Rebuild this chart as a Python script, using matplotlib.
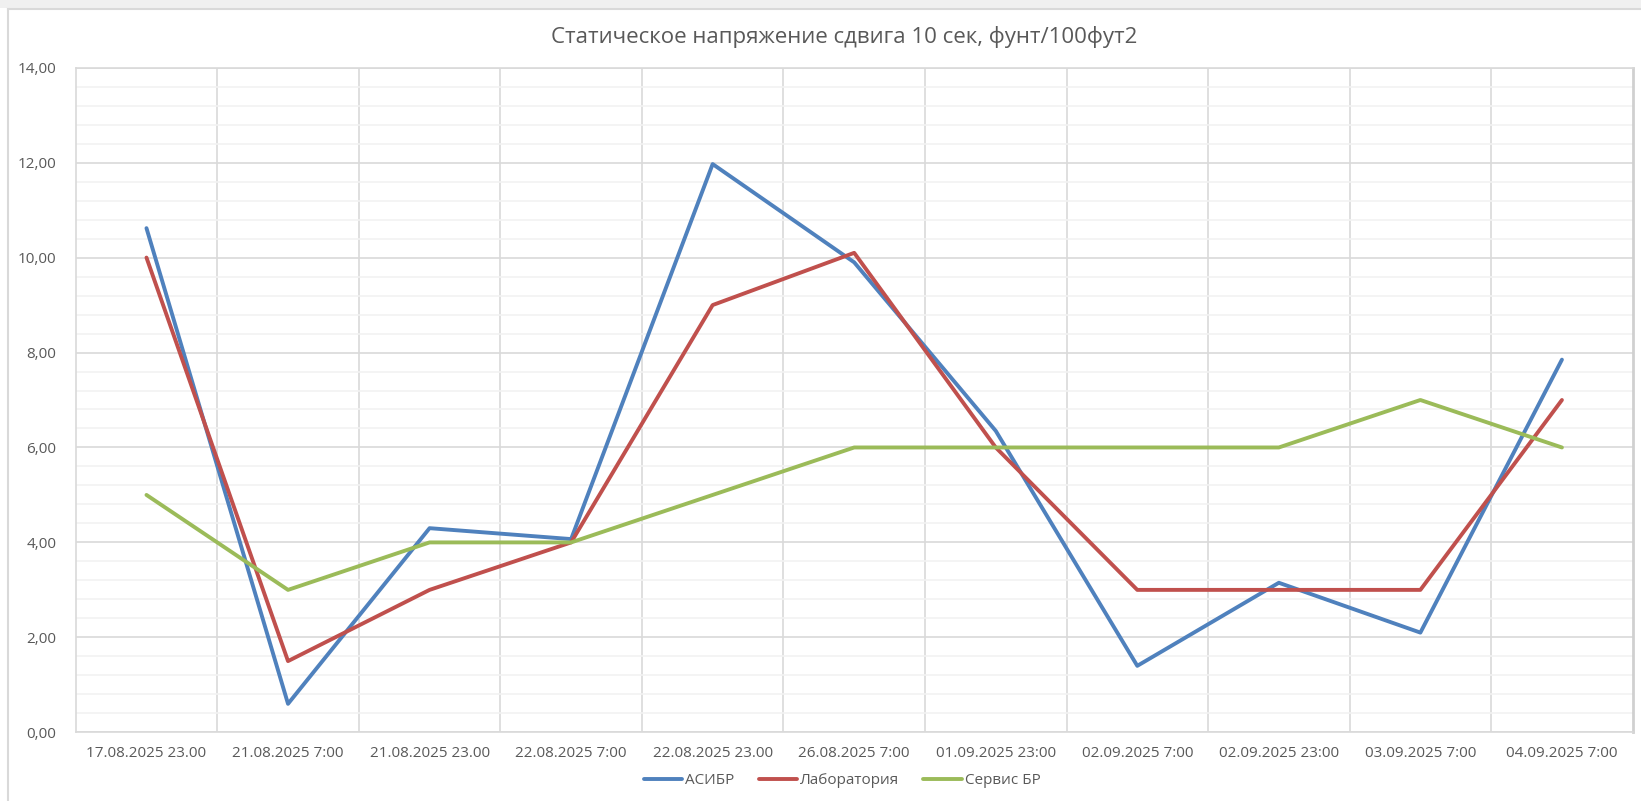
import matplotlib
matplotlib.use('Agg')
import matplotlib.pyplot as plt
from matplotlib.ticker import MultipleLocator, FuncFormatter
from matplotlib.lines import Line2D
from matplotlib.patches import Rectangle

plt.rcParams['font.family'] = ['Open Sans', 'DejaVu Sans']

# Chart data
categories = ['17.08.2025 23.00', '21.08.2025 7:00', '21.08.2025 23.00', '22.08.2025 7:00',
              '22.08.2025 23.00', '26.08.2025 7:00', '01.09.2025 23:00', '02.09.2025 7:00',
              '02.09.2025 23:00', '03.09.2025 7:00', '04.09.2025 7:00']
asibr = [10.62, 0.60, 4.30, 4.07, 11.97, 9.90, 6.35, 1.40, 3.15, 2.10, 7.85]
laboratory = [10.0, 1.5, 3.0, 4.0, 9.0, 10.1, 6.0, 3.0, 3.0, 3.0, 7.0]
service = [5.0, 3.0, 4.0, 4.0, 5.0, 6.0, 6.0, 6.0, 6.0, 7.0, 6.0]
series_names = ['АСИБР', 'Лаборатория', 'Сервис БР']
title = 'Статическое напряжение сдвига 10 сек, фунт/100фут2'


def main() -> None:
    text_color = '#595959'
    fig = plt.figure(figsize=(16.41, 8.01), dpi=100)
    fig.patch.set_facecolor('white')

    # Outer frame like the Excel chart area
    fig.patches.append(Rectangle((0, 1 - 8 / 801), 1, 8 / 801, transform=fig.transFigure,
                                 facecolor='#F0F0F0', edgecolor='none'))
    fig.lines.append(Line2D([8 / 1641, 1], [1 - 9 / 801, 1 - 9 / 801], transform=fig.transFigure,
                            color='#D9D9D9', lw=1.5))
    fig.lines.append(Line2D([8 / 1641, 8 / 1641], [0, 1 - 9 / 801], transform=fig.transFigure,
                            color='#D9D9D9', lw=1.5))

    ax = fig.add_axes([75.7 / 1641, 1 - 732.3 / 801, (1632.7 - 75.7) / 1641, (732.3 - 67.7) / 801])

    x = list(range(len(categories)))
    colors = ['#4F81BD', '#C0504D', '#9BBB59']
    for values, name, color in zip([asibr, laboratory, service], series_names, colors):
        ax.plot(x, values, color=color, lw=2.8, label=name, solid_joinstyle='round',
                solid_capstyle='round')

    ax.set_xlim(-0.5, len(categories) - 0.5)
    ax.set_ylim(0, 14)
    ax.set_xticks(x)
    ax.set_xticklabels(categories)
    ax.set_xticks([i + 0.5 for i in x[:-1]], minor=True)
    ax.yaxis.set_major_locator(MultipleLocator(2))
    ax.yaxis.set_minor_locator(MultipleLocator(0.4))
    ax.yaxis.set_major_formatter(FuncFormatter(lambda v, _: f'{v:.2f}'.replace('.', ',')))

    ax.grid(which='major', axis='y', color='#D9D9D9', lw=1.2)
    ax.grid(which='minor', axis='y', color='#F2F2F2', lw=1.2)
    ax.grid(which='minor', axis='x', color='#D9D9D9', lw=1.2)
    ax.set_axisbelow(True)

    ax.tick_params(which='both', length=0)
    ax.tick_params(axis='y', pad=14, labelsize=11, labelcolor=text_color)
    ax.tick_params(axis='x', pad=10, labelsize=11, labelcolor=text_color)
    for side in ['left', 'right', 'bottom', 'top']:
        ax.spines[side].set_color('#D9D9D9')
        ax.spines[side].set_linewidth(1.2)
    ax.spines['right'].set_color('#D0D0D0')
    ax.spines['right'].set_linewidth(2)

    fig.text(844 / 1641, 1 - 37 / 801, title, ha='center', va='center', fontsize=16,
             color=text_color)

    fig.legend(loc='center', bbox_to_anchor=(842 / 1641, 1 - 781 / 801), ncol=3, frameon=False,
               fontsize=11, handlelength=2.5, handletextpad=0.2, columnspacing=1.6,
               labelcolor=text_color)

    fig.savefig('out.png', dpi=100)


if __name__ == '__main__':
    main()
